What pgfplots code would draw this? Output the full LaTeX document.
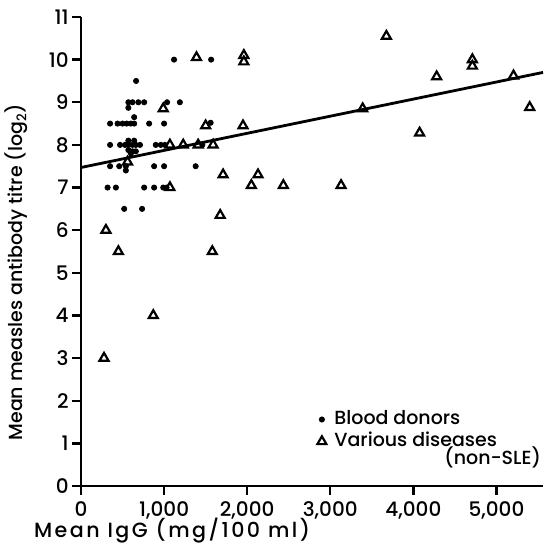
\documentclass[border=0pt]{standalone}
\usepackage{pgfplots}
\pgfplotsset{compat=1.18}
\usepackage{fontspec}
\setmainfont{Poppins}[UprightFont={* Medium}]
\begin{document}
\begin{tikzpicture}
\useasboundingbox (-40.5pt,-29.5pt) rectangle (231.5pt,243pt);
\begin{axis}[
  scale only axis,
  width=231pt, height=234.5pt,
  xmin=0, xmax=5560, ymin=0, ymax=11,
  axis x line*=bottom, axis y line*=left,
  axis line style={line width=1.4pt},
  tick align=outside,
  major tick length=4.5pt,
  tick style={line width=1.2pt, black},
  xtick={0,1000,2000,3000,4000,5000},
  xticklabels={0,{1,000},{2,000},{3,000},{4,000},{5,000}},
  ytick={0,1,...,11},
  /pgf/number format/assume math mode=true,
  tick label style={font=\fontsize{10}{11}\selectfont},
  yticklabel style={inner sep=1.5pt},
  xlabel={\addfontfeatures{LetterSpace=12}Mean IgG (mg/100 ml)},
  ylabel={Mean measles antibody titre (log\textsubscript{2})},
  label style={font=\fontsize{9.5}{11}\selectfont},
  xlabel style={font=\fontsize{10.3}{11}\selectfont, at={(axis description cs:0.197,-0.094)}, anchor=center},
  ylabel style={at={(axis description cs:-0.14,0.456)}, anchor=center},
  clip=false,
  legend style={at={(axis cs:2840,1.78)}, anchor=north west, draw=none, fill=none,
    font=\fontsize{9.5}{11}\selectfont, inner sep=0pt, row sep=2pt,
    nodes={inner sep=0pt, text height=7pt, text depth=2pt}},
  legend cell align=left,
  legend image code/.code={\draw[#1] plot coordinates {(0.1cm,0cm)};},
  legend style={/tikz/every odd column/.append style={column sep=4pt}},
]
\addplot[only marks, mark=*, mark size=1.3pt, black] coordinates {
(1120,10) (1566,10)
(663,9.5)
(570,9) (620,9) (690,9) (760,9) (1036,9) (1190,9)
(570,8.87)
(640,8.65)
(350,8.5) (440,8.5) (500,8.5) (550,8.5) (600,8.5) (640,8.5) (820,8.5) (1000,8.5) (1560,8.52)
(350,8) (470,8) (530,8) (570,8) (620,8) (660,8) (710,8) (900,8) (960,8) (1010,8) (1460,8)
(570,8.1) (640,8.1) (570,7.88) (620,7.85) (660,7.85) (600,7.8)
(350,7.5) (460,7.5) (540,7.5) (540,7.4) (880,7.5) (1000,7.5) (1380,7.5)
(320,7) (420,7) (760,7) (880,7) (990,7) (1030,7)
(520,6.5) (735,6.5)
};
\addlegendentry{Blood donors}
\addplot[only marks, mark=triangle, mark size=2.6pt, mark options={line width=1.1pt}, black] coordinates {
(277,3.0) (300,6.0) (450,5.5) (560,7.6) (870,4.0) (990,8.85) (1070,8.0) (1070,7.0)
(1230,8.0) (1390,10.05) (1410,8.0) (1500,8.45) (1590,8.0) (1580,5.5) (1675,6.35)
(1710,7.3) (1960,10.1) (1960,9.95) (1950,8.45) (2050,7.05) (2130,7.3) (2435,7.05)
(3130,7.05) (3390,8.85) (3675,10.55) (4075,8.28) (4280,9.6) (4710,10.0) (4710,9.85)
(5205,9.62) (5400,8.88)
};
\addlegendentry{Various diseases}
\addplot[black, line width=1.4pt, forget plot] coordinates {(0,7.47) (5560,9.7)};
\node[anchor=east, font=\fontsize{9.5}{11}\selectfont, inner sep=0pt] at (axis cs:5540,0.66) {(non-SLE)};
\end{axis}
\end{tikzpicture}
\end{document}
